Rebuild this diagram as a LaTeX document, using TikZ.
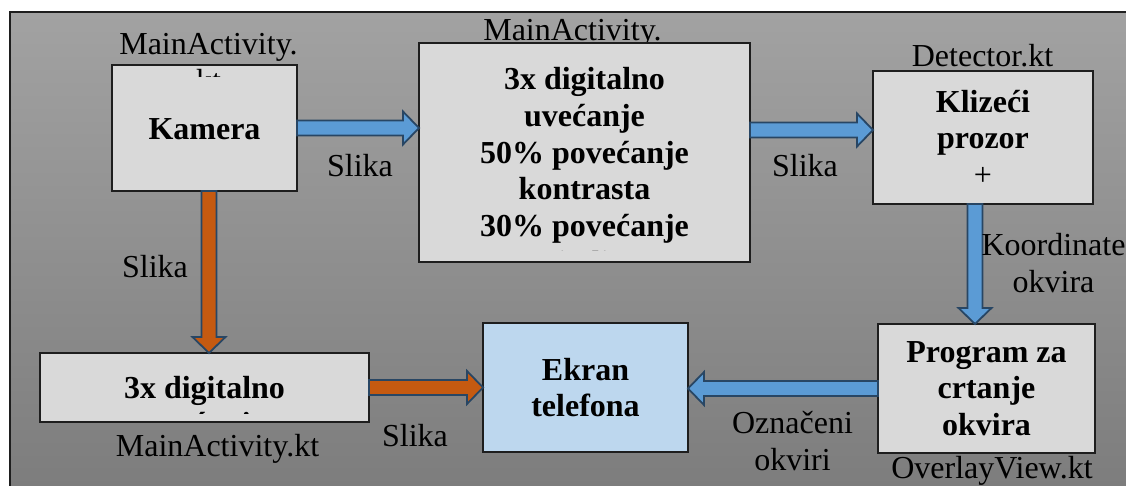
\documentclass[tikz,border=0pt]{standalone}
\usepackage{fontspec}
\setmainfont{Liberation Serif}
\usetikzlibrary{calc}
\definecolor{bgtop}{RGB}{162,162,162}
\definecolor{bgbot}{RGB}{124,124,124}
\definecolor{boxgray}{RGB}{217,217,217}
\definecolor{screenblue}{RGB}{189,215,238}
\definecolor{arrowblue}{RGB}{91,155,213}
\definecolor{arroworange}{RGB}{197,90,17}
\definecolor{arrowedge}{RGB}{40,70,100}
\definecolor{boxedge}{RGB}{30,30,30}
\tikzset{
  box/.style={draw=boxedge, line width=1.6pt, fill=boxgray, inner sep=0pt, outer sep=0pt,
    align=center, font=\fontsize{32}{36.6}\selectfont\bfseries},
  boxtext/.style={inner sep=0pt, outer sep=0pt, align=center, font=\fontsize{32}{36.75}\selectfont\bfseries},
  lbl/.style={inner sep=0pt, outer sep=0pt, align=center, font=\fontsize{32}{37}\selectfont, text=black},
  fat/.style={draw=arrowedge, line width=1.8pt, line join=miter, to path={
     ($(\tikztostart)!7.5pt!-90:(\tikztotarget)$)
  -- ($(\tikztotarget)!16pt!(\tikztostart)!7.5pt!90:(\tikztostart)$)
  -- ($(\tikztotarget)!16pt!(\tikztostart)!16.5pt!90:(\tikztostart)$)
  -- (\tikztotarget)
  -- ($(\tikztotarget)!16pt!(\tikztostart)!16.5pt!-90:(\tikztostart)$)
  -- ($(\tikztotarget)!16pt!(\tikztostart)!7.5pt!-90:(\tikztostart)$)
  -- ($(\tikztostart)!7.5pt!90:(\tikztotarget)$) -- cycle}},
  fatblue/.style={fat, fill=arrowblue},
  fatorange/.style={fat, fill=arroworange}
}
\begin{document}
\begin{tikzpicture}[x=1pt,y=-1pt]
\useasboundingbox (0,0) rectangle (1126,486);
\fill[white] (0,0) rectangle (1126,486);
\clip (0,0) rectangle (1126,486);
\shade[top color=bgtop,bottom color=bgbot] (10,12) rectangle (1140,500);
\draw[line width=1.5pt, draw=boxedge] (10,500) -- (10,12) -- (1140,12);

% label partly hidden under the processing box
\node[lbl, anchor=base] (lblproc) at (572.5,41) {MainActivity.};

% boxes
\node[box, minimum width=185pt, minimum height=126pt, text height=24pt, text depth=0pt] (kam) at (204.5,128) {Kamera};

\node[box, minimum width=331pt, minimum height=219pt, path picture={
   \clip ([xshift=3pt,yshift=11pt]path picture bounding box.south west) rectangle (path picture bounding box.north east);
   \node[boxtext, anchor=north] at ([yshift=-18pt]path picture bounding box.north)
     {3x digitalno\\uvećanje\\50\% povećanje\\kontrasta\\30\% povećanje\\\smash{svjetline}};
}] (proc) at (584.5,152.5) {};

\node[box, minimum width=220pt, minimum height=133pt] (det) at (983,137.5) {Klizeći\\prozor\\{\mdseries +}};

\node[box, minimum width=329pt, minimum height=69pt, path picture={
   \clip ([yshift=9pt]path picture bounding box.south west) rectangle (path picture bounding box.north east);
   \node[boxtext, anchor=north] at ([yshift=-18pt]path picture bounding box.north) {3x digitalno\\\smash{uvećanje}};
}] (ll) at (204.5,387.5) {};

\node[box, fill=screenblue, minimum width=205pt, minimum height=129pt] (ekran) at (585.5,387.5) {Ekran\\telefona};
\node[box, minimum width=217pt, minimum height=129pt] (ovl) at (986.5,388.5) {Program za\\crtanje\\okvira};

% file labels
\begin{scope}
\clip (100,20) rectangle (320,77);
\node[lbl, anchor=north] (lblkam) at (208.5,33.1) {MainActivity.\\\smash{kt}};
\end{scope}
\node[lbl, anchor=base] (lbldet) at (982.5,67) {Detector.kt};
\node[lbl, anchor=base] (lblll) at (217.5,456) {MainActivity.kt};
\node[lbl, anchor=base] (lblovl) at (992,478) {OverlayView.kt};

% connectors
\coordinate (r1) at (0,130);
\coordinate (c1) at (209,0);
\coordinate (c2) at (975,0);
\draw[fatblue] (kam.east) to (kam.east -| proc.west);
\draw[fatblue] (r1 -| proc.east) to (r1 -| det.west);
\draw[fatorange] (c1 |- kam.south) to (c1 |- ll.north);
\draw[fatorange] (ll.east) to (ll.east -| ekran.west);
\draw[fatblue] (c2 |- det.south) to (c2 |- ovl.north);
\draw[fatblue] (ovl.west) to (ovl.west -| ekran.east);

% connector labels
\node[lbl, anchor=base] (s1) at (360,177) {Slika};
\node[lbl, anchor=base] (s2) at (805,177) {Slika};
\node[lbl, anchor=base] (s3) at (155,277) {Slika};
\node[lbl, anchor=base] (s4) at (415,446) {Slika};
\node[lbl, anchor=north] (koord) at (1053.5,233.1) {Koordinate\\okvira};
\node[lbl, anchor=north] (ozn) at (792.5,411.3) {Označeni\\okviri};
\end{tikzpicture}
\end{document}
